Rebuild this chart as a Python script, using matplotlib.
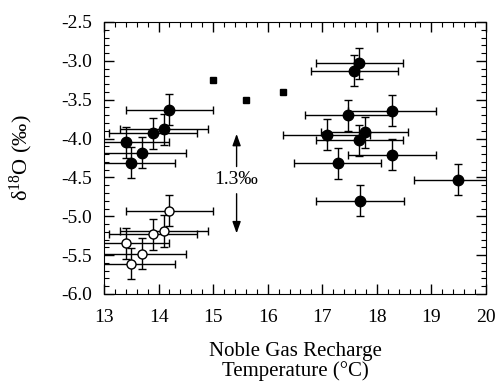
import matplotlib.pyplot as plt
from matplotlib.ticker import MultipleLocator

plt.rcParams['font.family'] = ['Liberation Serif', 'DejaVu Serif']
plt.rcParams['mathtext.fontset'] = 'custom'
plt.rcParams['mathtext.rm'] = 'Liberation Serif'

# filled circles
fill_x = [14.2, 14.1, 13.9, 13.4, 13.7, 13.5,
          17.68, 17.59, 18.28, 17.48, 17.78, 17.08, 17.68, 18.28, 17.28, 19.49, 17.69]
fill_y = [-3.63, -3.88, -3.93, -4.05, -4.18, -4.31,
          -3.03, -3.13, -3.64, -3.70, -3.92, -3.95, -4.02, -4.21, -4.32, -4.53, -4.80]
# open circles
open_x = [14.2, 14.1, 13.9, 13.4, 13.7, 13.5]
open_y = [-4.93, -5.19, -5.23, -5.35, -5.48, -5.61]
# squares
sq_x = [15.0, 15.6, 16.28]
sq_y = [-3.25, -3.51, -3.40]

x_err = 0.8
y_err = 0.2

fig = plt.figure(figsize=(4.99, 3.83), dpi=100)
ax = fig.add_axes([0.2084, 0.2324, 0.7655, 0.7102])

eb = dict(xerr=x_err, yerr=y_err, fmt='o', ecolor='black', elinewidth=1,
          capsize=2.7, capthick=1)
ax.errorbar(fill_x, fill_y, mfc='black', mec='black', ms=7.5, **eb)
ax.errorbar(open_x, open_y, mfc='white', mec='black', ms=6.5, mew=1, **eb)
ax.plot(sq_x, sq_y, 's', color='black', ms=4.5)

# 1.3 permil arrows
aprops = dict(arrowstyle='-|>,head_width=0.25,head_length=0.7', color='black', lw=1,
              shrinkA=0, shrinkB=0)
ax.annotate('', xy=(15.43, -3.94), xytext=(15.43, -4.36), arrowprops=aprops)
ax.annotate('', xy=(15.43, -5.22), xytext=(15.43, -4.71), arrowprops=aprops)
ax.text(15.43, -4.53, '1.3‰', ha='center', va='center', fontsize=14)

ax.set_xlim(13, 20)
ax.set_ylim(-6.0, -2.5)
ax.xaxis.set_major_locator(MultipleLocator(1))
ax.xaxis.set_minor_locator(MultipleLocator(0.2))
ax.yaxis.set_minor_locator(MultipleLocator(0.1))
ax.set_yticks([-2.5, -3.0, -3.5, -4.0, -4.5, -5.0, -5.5, -6.0])
ax.set_yticklabels(['-2.5', '-3.0', '-3.5', '-4.0', '-4.5', '-5.0', '-5.5', '-6.0'])
ax.tick_params(which='both', direction='in', top=True, right=True, labelsize=14)
ax.tick_params(which='major', length=7, width=1)
ax.tick_params(which='minor', length=3.5, width=0.8)
ax.tick_params(axis='x', pad=11)
ax.tick_params(axis='y', pad=8.5)

ax.set_xlabel('Noble Gas Recharge\nTemperature (°C)', fontsize=15, linespacing=1.05)
ax.xaxis.set_label_coords(0.5, -0.175)
ax.set_ylabel(r'$\mathrm{\delta^{18}O}$ (‰)', fontsize=16)
ax.yaxis.set_label_coords(-0.215, 0.5)
ax.yaxis.label.set_va('center')

fig.savefig('out.png', dpi=100)
